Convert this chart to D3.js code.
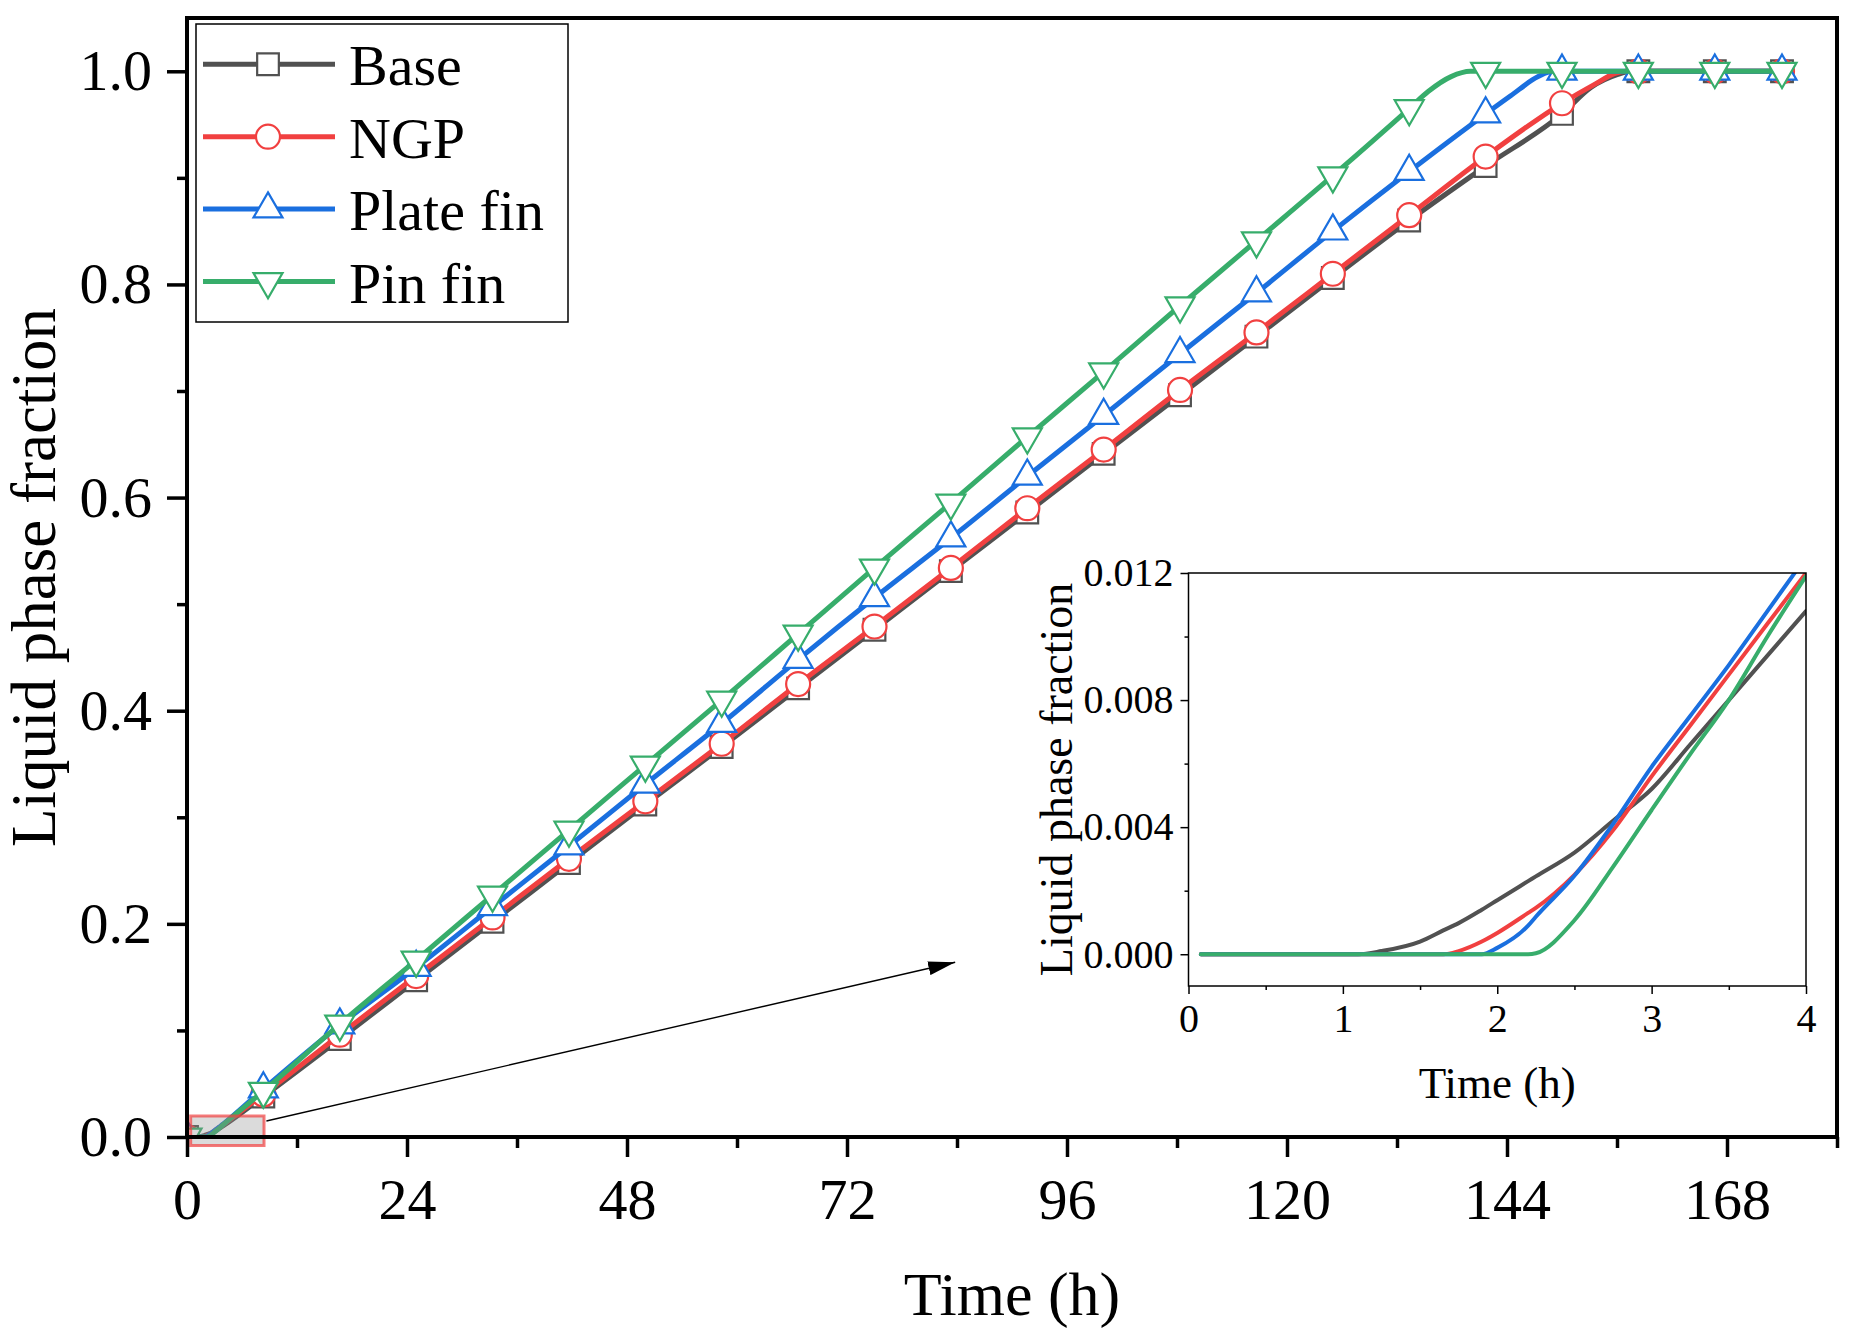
<!DOCTYPE html>
<html>
<head>
<meta charset="utf-8">
<script src="https://cdn.jsdelivr.net/npm/d3@7"></script>
<style>
  body { margin: 0; background: #fff; }
  svg { display: block; font-family: "Liberation Serif", "Times New Roman", serif; }
</style>
</head>
<body>
<div id="chart"></div>
<script>
// ---- data ----
const seriesNames  = ['Base', 'NGP', 'Plate fin', 'Pin fin'];
const seriesColors = ['#515151', '#F14040', '#1A6FDF', '#37AD6B'];

// marker samples (h) on the main plot
const markerTimes = [0, 8.33, 16.67, 25, 33.33, 41.67, 50, 58.33, 66.67, 75, 83.33,
                     91.67, 100, 108.33, 116.67, 125, 133.33, 141.67, 150, 158.33, 166.67, 174];
const baseMarks  = [0, 0.038, 0.092, 0.147, 0.202, 0.257, 0.312, 0.366, 0.421, 0.476, 0.531,
                    0.586, 0.641, 0.696, 0.751, 0.806, 0.860, 0.911, 0.960, 1.0, 1.0, 1.0];
const ngpMarks   = [0, 0.040, 0.096, 0.151, 0.206, 0.261, 0.315, 0.369, 0.425, 0.479, 0.534,
                    0.590, 0.645, 0.701, 0.755, 0.810, 0.865, 0.920, 0.970, 1.0, 1.0, 1.0];
const plateMarks = [0, 0.045, 0.105, 0.159, 0.216, 0.273, 0.331, 0.388, 0.448, 0.506, 0.562,
                    0.620, 0.677, 0.735, 0.792, 0.850, 0.906, 0.960, 1.0, 1.0, 1.0, 1.0];
const pinMarks   = [0, 0.043, 0.106, 0.166, 0.227, 0.288, 0.349, 0.410, 0.472, 0.534, 0.595,
                    0.657, 0.718, 0.780, 0.841, 0.902, 0.965, 1.0, 1.0, 1.0, 1.0, 1.0];

// where each curve bends onto the fully-melted plateau [t, value]
const baseBend  = [[153.2, 0.985], [156.1, 0.997], [157.5, 1.0]];
const ngpBend   = [[153.6, 0.988], [155.8, 0.998], [157.0, 1.0]];
const plateBend = [[144.4, 0.977], [147.4, 0.995], [149.0, 1.0]];
const pinBend   = [[135.4, 0.981], [137.9, 0.995], [140.0, 1.0]];

// first four hours (inset)
const insetTimes = [0.08, 1.0, 1.1, 1.25, 1.5, 1.65, 1.75, 1.9, 2.0, 2.2, 2.25, 2.5, 2.75, 3.0, 3.25, 3.5, 3.75, 4.0];
const baseInset  = [0, 0, 0, 0.0001, 0.0004, 0.00075, 0.00098, 0.0014, 0.0017, 0.0023, 0.00245,
                    0.0032, 0.0042, 0.0052, 0.0066, 0.0080, 0.0094, 0.0108];
const ngpInset   = [0, 0, 0, 0, 0, 0, 0.0001, 0.0004, 0.00067, 0.0013, 0.00146,
                    0.0025, 0.0039, 0.0056, 0.0072, 0.0088, 0.0104, 0.0120];
const plateInset = [0, 0, 0, 0, 0, 0, 0, 0, 0.0002, 0.0009, 0.00118,
                    0.00247, 0.0041, 0.0059, 0.0075, 0.0091, 0.0108, 0.0125];
const pinInset   = [0, 0, 0, 0, 0, 0, 0, 0, 0, 0, 0.00003,
                    0.00107, 0.00275, 0.00454, 0.0063, 0.0080, 0.0100, 0.0119];

const xTicks = [0, 24, 48, 72, 96, 120, 144, 168];
const xMinor = [12, 36, 60, 84, 108, 132, 156, 180];
const yTicks = [0, 0.2, 0.4, 0.6, 0.8, 1.0];
const yMinor = [0.1, 0.3, 0.5, 0.7, 0.9];
const insetXTicks = [0, 1, 2, 3, 4];
const insetXMinor = [0.5, 1.5, 2.5, 3.5];
const insetYTicks = [0, 0.004, 0.008, 0.012];
const insetYMinor = [0.002, 0.006, 0.010];

// highlighted region and arrow, in data units
const zoomBox = [[0.4, -0.008], [8.4, 0.0197]];
const arrowPts = [[8.66, 0.015], [83.8, 0.164]];

// ---- layout ----
const width = 1851, height = 1342;
const svg = d3.select('#chart').append('svg')
  .attr('width', width).attr('height', height);

const x = d3.scaleLinear().domain([0, 180]).range([187, 1837]);
const y = d3.scaleLinear().domain([0, 1.05]).range([1137, 18]);
const x2 = d3.scaleLinear().domain([0, 4]).range([1188.5, 1806]);
const y2 = d3.scaleLinear().domain([-0.001, 0.012]).range([986, 573]);

const series = [
  { marks: baseMarks,  bend: baseBend,  inset: baseInset,  sym: d3.symbolSquare,   size: 470, rot: 0 },
  { marks: ngpMarks,   bend: ngpBend,   inset: ngpInset,   sym: d3.symbolCircle,   size: 452, rot: 0 },
  { marks: plateMarks, bend: plateBend, inset: plateInset, sym: d3.symbolTriangle, size: 364, rot: 0 },
  { marks: pinMarks,   bend: pinBend,   inset: pinInset,   sym: d3.symbolTriangle, size: 364, rot: 180 }
].map((s, i) => {
  const pts = insetTimes.map((t, j) => [t, s.inset[j]])
    .concat(markerTimes.map((t, j) => [t, s.marks[j]]).filter(d => d[0] > 4))
    .concat(s.bend)
    .sort((a, b) => a[0] - b[0]);
  return { ...s, name: seriesNames[i], color: seriesColors[i], line: pts };
});

const defs = svg.append('defs');
defs.append('clipPath').attr('id', 'mainClip').append('rect')
  .attr('x', x(0)).attr('y', y(1.05)).attr('width', x(180) - x(0)).attr('height', y(0) - y(1.05));
defs.append('clipPath').attr('id', 'insetClip').append('rect')
  .attr('x', x2(0)).attr('y', y2(0.012)).attr('width', x2(4) - x2(0)).attr('height', y2(-0.001) - y2(0.012));
defs.append('marker').attr('id', 'arrowHead')
  .attr('markerUnits', 'userSpaceOnUse')
  .attr('viewBox', '0 -7 27 14').attr('refX', 27).attr('refY', 0)
  .attr('markerWidth', 27).attr('markerHeight', 14).attr('orient', 'auto')
  .append('path').attr('d', 'M0,-7L27,0L0,7Z').attr('fill', '#000');

// ---- main plot curves ----
const lineGen = d3.line().x(d => x(d[0])).y(d => y(d[1])).curve(d3.curveMonotoneX);
const plot = svg.append('g').attr('clip-path', 'url(#mainClip)');
series.forEach(s => {
  plot.append('path')
    .attr('d', lineGen(s.line))
    .attr('fill', 'none').attr('stroke', s.color).attr('stroke-width', 5);
  plot.selectAll(null)
    .data(markerTimes.map((t, j) => [t, s.marks[j]]))
    .join('path')
    .attr('d', d3.symbol(s.sym, s.size))
    .attr('transform', d => `translate(${x(d[0])},${y(d[1])}) rotate(${s.rot})`)
    .attr('fill', '#fff').attr('stroke', s.color).attr('stroke-width', 2.2);
});

// highlighted region + arrow
svg.append('rect')
  .attr('x', x(zoomBox[0][0])).attr('y', y(zoomBox[1][1]))
  .attr('width', x(zoomBox[1][0]) - x(zoomBox[0][0]))
  .attr('height', y(zoomBox[0][1]) - y(zoomBox[1][1]))
  .attr('fill', '#8f8f8f').attr('fill-opacity', 0.32)
  .attr('stroke', '#F14040').attr('stroke-opacity', 0.7).attr('stroke-width', 3);
svg.append('line')
  .attr('x1', x(arrowPts[0][0])).attr('y1', y(arrowPts[0][1]))
  .attr('x2', x(arrowPts[1][0])).attr('y2', y(arrowPts[1][1]))
  .attr('stroke', '#000').attr('stroke-width', 1.4)
  .attr('marker-end', 'url(#arrowHead)');

// ---- main axes ----
function styleAxis(g, fontSize, tickWidth) {
  g.select('.domain').remove();
  g.selectAll('line').attr('stroke', '#000').attr('stroke-width', tickWidth);
  g.selectAll('text').attr('fill', '#000').attr('font-size', fontSize)
    .attr('font-family', '"Liberation Serif", "Times New Roman", serif');
}
svg.append('g').attr('transform', `translate(0,${y(0)})`)
  .call(d3.axisBottom(x).tickValues(xMinor).tickSize(11).tickFormat(''))
  .call(g => styleAxis(g, 58, 3.5));
svg.append('g').attr('transform', `translate(0,${y(0)})`)
  .call(d3.axisBottom(x).tickValues(xTicks).tickSize(20).tickPadding(21).tickFormat(d3.format('d')))
  .call(g => styleAxis(g, 58, 3.5));
svg.append('g').attr('transform', `translate(${x(0)},0)`)
  .call(d3.axisLeft(y).tickValues(yMinor).tickSize(10).tickFormat(''))
  .call(g => styleAxis(g, 58, 3.5));
svg.append('g').attr('transform', `translate(${x(0)},0)`)
  .call(d3.axisLeft(y).tickValues(yTicks).tickSize(20).tickPadding(15).tickFormat(d3.format('.1f')))
  .call(g => styleAxis(g, 58, 3.5));

svg.append('rect')
  .attr('x', x(0)).attr('y', y(1.05))
  .attr('width', x(180) - x(0)).attr('height', y(0) - y(1.05))
  .attr('fill', 'none').attr('stroke', '#000').attr('stroke-width', 4);

svg.append('text')
  .attr('x', (x(0) + x(180)) / 2).attr('y', 1315)
  .attr('text-anchor', 'middle').attr('font-size', 62)
  .text('Time (h)');
svg.append('text')
  .attr('transform', `translate(55,${(y(0) + y(1.05)) / 2}) rotate(-90)`)
  .attr('text-anchor', 'middle').attr('font-size', 63)
  .text('Liquid phase fraction');

// ---- legend ----
const legend = svg.append('g');
legend.append('rect')
  .attr('x', 196).attr('y', 24).attr('width', 372).attr('height', 298)
  .attr('fill', '#fff').attr('stroke', '#000').attr('stroke-width', 1.5);
series.forEach((s, i) => {
  const ly = 64.3 + i * 72.4;
  const g = legend.append('g').attr('transform', `translate(0,${ly})`);
  g.append('line').attr('x1', 203).attr('x2', 335).attr('y1', 0).attr('y2', 0)
    .attr('stroke', s.color).attr('stroke-width', 5);
  g.append('path').attr('d', d3.symbol(s.sym, s.size))
    .attr('transform', `translate(268,0) rotate(${s.rot})`)
    .attr('fill', '#fff').attr('stroke', s.color).attr('stroke-width', 2.2);
  g.append('text').attr('x', 349).attr('y', 21).attr('font-size', 58).text(s.name);
});

// ---- inset ----
const inset = svg.append('g');
inset.append('rect')
  .attr('x', x2(0)).attr('y', y2(0.012))
  .attr('width', x2(4) - x2(0)).attr('height', y2(-0.001) - y2(0.012))
  .attr('fill', '#fff');
const insetLine = d3.line().x(d => x2(d[0])).y(d => y2(d[1])).curve(d3.curveMonotoneX);
const insetPlot = inset.append('g').attr('clip-path', 'url(#insetClip)');
series.forEach(s => {
  insetPlot.append('path')
    .attr('d', insetLine(insetTimes.map((t, j) => [t, s.inset[j]])))
    .attr('fill', 'none').attr('stroke', s.color).attr('stroke-width', 4)
    .attr('stroke-linecap', 'round');
});
inset.append('g').attr('transform', `translate(0,${y2(-0.001)})`)
  .call(d3.axisBottom(x2).tickValues(insetXMinor).tickSize(4).tickFormat(''))
  .call(g => styleAxis(g, 40, 1.5));
inset.append('g').attr('transform', `translate(0,${y2(-0.001)})`)
  .call(d3.axisBottom(x2).tickValues(insetXTicks).tickSize(8).tickPadding(10).tickFormat(d3.format('d')))
  .call(g => styleAxis(g, 40, 1.5));
inset.append('g').attr('transform', `translate(${x2(0)},0)`)
  .call(d3.axisLeft(y2).tickValues(insetYMinor).tickSize(4).tickFormat(''))
  .call(g => styleAxis(g, 40, 1.5));
inset.append('g').attr('transform', `translate(${x2(0)},0)`)
  .call(d3.axisLeft(y2).tickValues(insetYTicks).tickSize(8).tickPadding(7).tickFormat(d3.format('.3f')))
  .call(g => styleAxis(g, 40, 1.5));
inset.append('rect')
  .attr('x', x2(0)).attr('y', y2(0.012))
  .attr('width', x2(4) - x2(0)).attr('height', y2(-0.001) - y2(0.012))
  .attr('fill', 'none').attr('stroke', '#000').attr('stroke-width', 1.5);
inset.append('text')
  .attr('x', (x2(0) + x2(4)) / 2).attr('y', 1098)
  .attr('text-anchor', 'middle').attr('font-size', 45)
  .text('Time (h)');
inset.append('text')
  .attr('transform', `translate(1072,${(y2(-0.001) + y2(0.012)) / 2}) rotate(-90)`)
  .attr('text-anchor', 'middle').attr('font-size', 46)
  .text('Liquid phase fraction');
</script>
</body>
</html>
